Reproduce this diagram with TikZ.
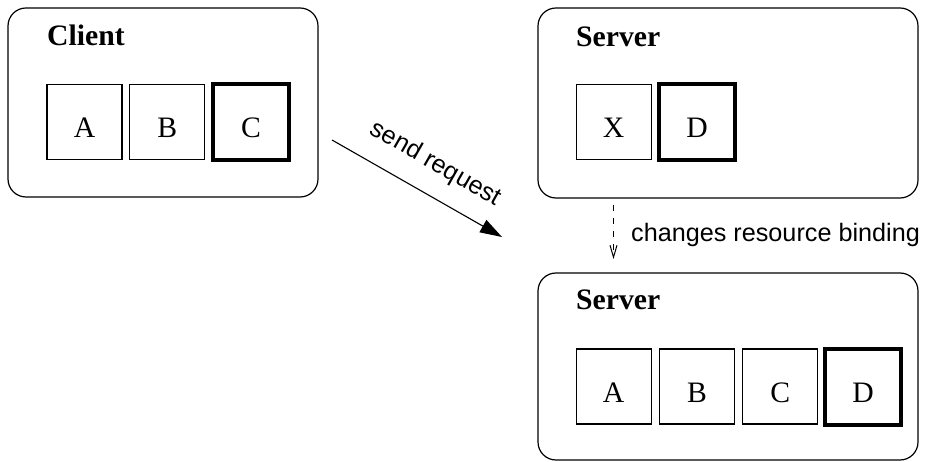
\documentclass[tikz,border=0pt]{standalone}
\usepackage{fontspec}
\setmainfont{Liberation Serif}
\newfontfamily\helv{Liberation Sans}
\usetikzlibrary{arrows.meta}
\tikzset{
  frame/.style={draw, rounded corners=18bp, line width=1.2bp, inner sep=0},
  title/.style={anchor=base west, inner sep=0, font=\fontsize{29.8}{34}\selectfont\bfseries},
  sqbase/.style={draw, inner sep=0, text height=32bp, text depth=0bp,
    font=\fontsize{29.8}{34}\selectfont},
  sq/.style={sqbase, line width=1.1bp, minimum size=75bp},
  sqb/.style={sqbase, line width=4bp, minimum size=76bp},
  sans/.style={font=\helv\fontsize{25.3}{30}\selectfont, inner sep=0},
}
\begin{document}
\begin{tikzpicture}[x=1bp, y=-1bp]
\useasboundingbox (0,0) rectangle (928,462);
% frames
\node[frame, minimum width=310bp, minimum height=189bp] (client) at (163,102.5) {};
\node[frame, minimum width=380bp, minimum height=190bp] (srv1) at (728,103) {};
\node[frame, minimum width=380bp, minimum height=187bp] (srv2) at (728,366.5) {};
% titles
\node[title] (tc) at (47,46) {Client};
\node[title] (ts1) at (576,47) {Server};
\node[title] (ts2) at (576,310) {Server};
% client squares
\node[sq] (ca) at (84.5,122) {A};
\node[sq] (cb) at (167.3,122) {B};
\node[sqb] (cc) at (251,122) {C};
% server 1
\node[sq] (sx) at (613.7,122) {X};
\node[sqb] (sd) at (697,122) {D};
% server 2
\node[sq] (ra) at (613.7,386.5) {A};
\node[sq] (rb) at (697,386.5) {B};
\node[sq] (rc) at (780.3,386.5) {C};
\node[sqb] (rd) at (863,386.7) {D};
% send request arrow
\coordinate (s1) at (332,140);
\coordinate (s2) at (502,237);
\draw[line width=1.1bp, -{Triangle[length=22bp,width=14bp]}] (s1) -- (s2)
  node[pos=0.52, sloped, above=18bp, sans] (lsend) {send request};
% dashed arrow
\coordinate (d1) at (613.5,205);
\coordinate (d2) at (613.5,259);
\draw[line width=1bp, dash pattern=on 6bp off 7bp, -{Straight Barb[length=12bp,width=7bp]}] (d1) -- (d2);
\node[sans, anchor=base west] (lchg) at (631,242) {changes resource binding};
\end{tikzpicture}
\end{document}
